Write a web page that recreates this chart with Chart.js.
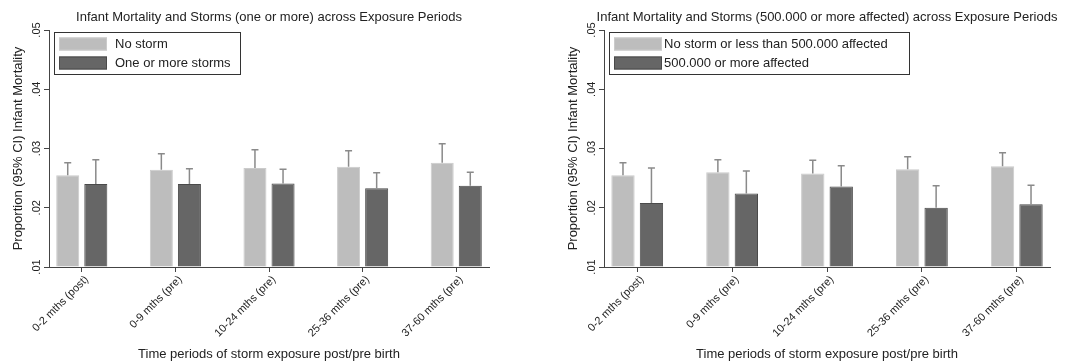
<!DOCTYPE html>
<html>
<head>
<meta charset="utf-8">
<script src="https://cdn.jsdelivr.net/npm/chart.js@4.4.1/dist/chart.umd.min.js"></script>
<style>
  body { margin: 0; background: #fff; }
  .panel { position: absolute; top: 0; }
</style>
</head>
<body>
<div class="panel" style="left:0"><canvas id="leftChart" width="540" height="363"></canvas></div>
<div class="panel" style="left:540px"><canvas id="rightChart" width="537" height="363"></canvas></div>
<script>
// exposure periods on the x axis
const categories = ['0-2 mths (post)', '0-9 mths (pre)', '10-24 mths (pre)', '25-36 mths (pre)', '37-60 mths (pre)'];
const yTicks = [0.01, 0.02, 0.03, 0.04, 0.05];
const yTickLabels = ['.01', '.02', '.03', '.04', '.05'];

// left panel: no storm vs one or more storms
const leftTitle = 'Infant Mortality and Storms (one or more) across Exposure Periods';
const leftLegend = ['No storm', 'One or more storms'];
const noStorm = [0.0255, 0.0264, 0.0267, 0.0269, 0.0276];
const noStormHi = [0.0276, 0.0291, 0.0298, 0.0296, 0.0308];
const storms = [0.0240, 0.0240, 0.0241, 0.0233, 0.0237];
const stormsHi = [0.0281, 0.0266, 0.0265, 0.0259, 0.0260];

// right panel: 500.000 or more affected
const rightTitle = 'Infant Mortality and Storms (500.000 or more affected) across Exposure Periods';
const rightLegend = ['No storm or less than 500.000 affected', '500.000 or more affected'];
const lowAffected = [0.0255, 0.0260, 0.0258, 0.0265, 0.0270];
const lowAffectedHi = [0.0276, 0.0281, 0.0280, 0.0286, 0.0293];
const highAffected = [0.0208, 0.0224, 0.0236, 0.0200, 0.0206];
const highAffectedHi = [0.0267, 0.0262, 0.0271, 0.0237, 0.0238];

const yTitle = 'Proportion (95% CI) Infant Mortality';
const xTitle = 'Time periods of storm exposure post/pre birth';

Chart.defaults.font.family = '"Liberation Sans", Arial, sans-serif';
Chart.defaults.color = '#222';

const LIGHT = '#bdbdbd';
const DARK = '#666666';
const AXIS = '#444';

// stata style extras: title over plot, rotated y labels, CI whiskers, boxed legend
const stataBits = {
  id: 'stataBits',
  afterDatasetsDraw(chart, args, opts) {
    const ctx = chart.ctx;
    const ys = chart.scales.y;
    ctx.save();
    ctx.strokeStyle = '#8a8a8a';
    ctx.lineWidth = 1.5;
    opts.upper.forEach((hi, i) => {
      const meta = chart.getDatasetMeta(i);
      meta.data.forEach((bar, j) => {
        const top = ys.getPixelForValue(hi[j]);
        ctx.beginPath();
        ctx.moveTo(bar.x, bar.y);
        ctx.lineTo(bar.x, top);
        ctx.moveTo(bar.x - 3.5, top);
        ctx.lineTo(bar.x + 3.5, top);
        ctx.stroke();
      });
    });
    ctx.restore();
  },
  afterDraw(chart, args, opts) {
    const ctx = chart.ctx;
    const area = chart.chartArea;
    const ys = chart.scales.y;
    ctx.save();
    // title
    ctx.fillStyle = '#222';
    ctx.font = '13px "Liberation Sans", Arial, sans-serif';
    ctx.textAlign = 'center';
    ctx.textBaseline = 'middle';
    ctx.fillText(opts.title, (area.left + area.right) / 2, 17);
    // y tick labels, rotated
    ctx.font = '11px "Liberation Sans", Arial, sans-serif';
    ys.ticks.forEach((t, i) => {
      ctx.save();
      ctx.translate(area.left - 12, ys.getPixelForValue(t.value));
      ctx.rotate(-Math.PI / 2);
      ctx.fillText(yTickLabels[i], 0, 0);
      ctx.restore();
    });
    // legend box
    const bx = area.left + 5, by = 32;
    ctx.fillStyle = '#fff';
    ctx.fillRect(bx, by, opts.legendWidth, 42);
    ctx.strokeStyle = '#333';
    ctx.lineWidth = 1;
    ctx.strokeRect(bx + 0.5, by + 0.5, opts.legendWidth, 42);
    ctx.font = '13px "Liberation Sans", Arial, sans-serif';
    ctx.textAlign = 'left';
    chart.data.datasets.forEach((ds, i) => {
      const sy = by + 5.5 + i * 19;
      ctx.fillStyle = ds.backgroundColor;
      ctx.fillRect(bx + 5, sy, 48, 13);
      ctx.strokeStyle = ds.borderColor;
      ctx.strokeRect(bx + 5.5, sy + 0.5, 47, 12);
      ctx.fillStyle = '#222';
      ctx.fillText(ds.label, bx + 53 + opts.textGap, sy + 7);
    });
    ctx.restore();
  }
};

function makeChart(id, title, legend, light, lightHi, dark, darkHi, layout) {
  const pts = vals => vals.map((v, i) => ({ x: i, y: v }));
  return new Chart(document.getElementById(id), {
    type: 'bar',
    data: {
      datasets: [
        { label: legend[0], data: pts(light), backgroundColor: LIGHT, borderColor: '#cbcbcb', borderWidth: 1, base: yTicks[0] },
        { label: legend[1], data: pts(dark), backgroundColor: DARK, borderColor: '#4a4a4a', borderWidth: 1, base: yTicks[0] }
      ]
    },
    options: {
      responsive: false,
      animation: false,
      categoryPercentage: 0.6,
      barPercentage: 0.82,
      layout: { padding: { top: 30, right: layout.padRight, bottom: 0, left: 0 } },
      plugins: {
        legend: { display: false },
        tooltip: { enabled: false },
        stataBits: { title: title, upper: [lightHi, darkHi], legendWidth: layout.legendWidth, textGap: layout.textGap }
      },
      scales: {
        x: {
          type: 'linear',
          offset: false,
          min: -0.35,
          max: 4.35,
          afterBuildTicks: axis => { axis.ticks = categories.map((c, i) => ({ value: i })); },
          afterFit: axis => { axis.height = 96; },
          ticks: {
            autoSkip: false,
            minRotation: 45,
            maxRotation: 45,
            padding: 1,
            labelOffset: 5,
            color: '#222',
            font: { size: 11 },
            callback: (v, i) => categories[i]
          },
          grid: { display: true, offset: false, drawOnChartArea: false, drawTicks: true, tickLength: 5, color: AXIS },
          border: { display: true, color: AXIS, width: 1 },
          title: { display: true, text: xTitle, font: { size: 13 }, color: '#222', padding: { top: 0, bottom: 1 } }
        },
        y: {
          min: yTicks[0],
          max: yTicks[yTicks.length - 1],
          afterBuildTicks: axis => { axis.ticks = yTicks.map(v => ({ value: v })); },
          afterFit: axis => { axis.width = layout.axisLeft; },
          ticks: { display: false },
          grid: { display: true, drawOnChartArea: false, drawTicks: true, tickLength: 5, color: AXIS },
          border: { display: true, color: AXIS, width: 1 },
          title: { display: true, text: yTitle, font: { size: 13 }, color: '#222', padding: { top: layout.yTitlePad, bottom: 0 } }
        }
      }
    },
    plugins: [stataBits]
  });
}

makeChart('leftChart', leftTitle, leftLegend, noStorm, noStormHi, storms, stormsHi,
  { axisLeft: 49, padRight: 51, yTitlePad: 10.5, legendWidth: 186, textGap: 8 });
makeChart('rightChart', rightTitle, rightLegend, lowAffected, lowAffectedHi, highAffected, highAffectedHi,
  { axisLeft: 64, padRight: 27, yTitlePad: 26, legendWidth: 300, textGap: 2 });
</script>
</body>
</html>
